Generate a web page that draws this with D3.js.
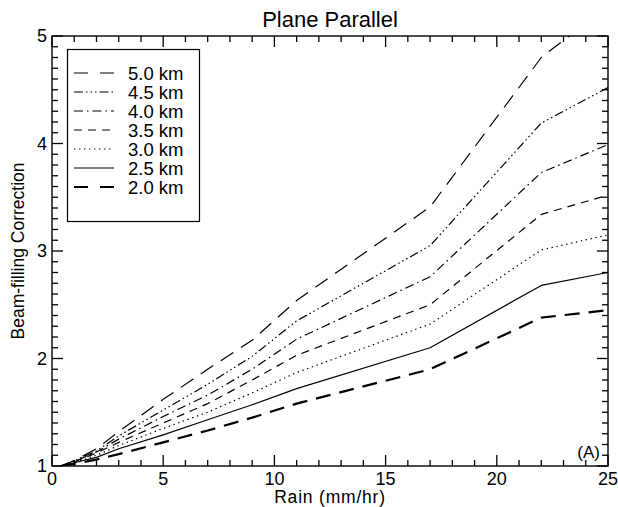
<!DOCTYPE html>
<html>
<head>
<meta charset="utf-8">
<script src="https://cdn.jsdelivr.net/npm/d3@7"></script>
<style>
  html, body { margin: 0; padding: 0; background: #fff; }
  svg { display: block; font-family: "Liberation Sans", Arial, Helvetica, sans-serif; }
</style>
</head>
<body>
<svg id="chart" width="618" height="507"></svg>
<script>
// Rain rate (mm/hr) at which each correction was computed
const rainRates = [0.4, 1, 2, 3, 5, 7, 9, 11, 17, 22, 25];

// Beam-filling correction for each freezing-level height
const km50 = [1.00, 1.05, 1.16, 1.32, 1.62, 1.90, 2.17, 2.54, 3.41, 4.80, 5.28];
const km45 = [1.00, 1.05, 1.14, 1.28, 1.52, 1.76, 2.02, 2.35, 3.05, 4.19, 4.52];
const km40 = [1.00, 1.04, 1.13, 1.25, 1.46, 1.66, 1.90, 2.18, 2.76, 3.73, 3.99];
const km35 = [1.00, 1.04, 1.12, 1.22, 1.40, 1.58, 1.80, 2.03, 2.50, 3.34, 3.52];
const km30 = [1.00, 1.03, 1.10, 1.19, 1.35, 1.50, 1.68, 1.87, 2.32, 3.01, 3.15];
const km25 = [1.00, 1.03, 1.08, 1.16, 1.29, 1.43, 1.57, 1.72, 2.10, 2.68, 2.80];
const km20 = [1.00, 1.02, 1.06, 1.11, 1.22, 1.33, 1.45, 1.58, 1.90, 2.38, 2.45];

const seriesLabels = ["5.0 km", "4.5 km", "4.0 km", "3.5 km", "3.0 km", "2.5 km", "2.0 km"];
const seriesValues = [km50, km45, km40, km35, km30, km25, km20];

const xTicks = [0, 5, 10, 15, 20, 25];
const yTicks = [1, 2, 3, 4, 5];

// Line styles: long dash, dash-dot-dot-dot, dash-dot, dash, dot, solid, heavy long dash
const styles = [
  { dash: "15,9", width: 1.2 },
  { dash: "9,3,1.5,3,1.5,3,1.5,3", width: 1.2 },
  { dash: "9,4,1.5,4", width: 1.2 },
  { dash: "8,6", width: 1.2 },
  { dash: "1.4,3.6", width: 1.2 },
  { dash: null, width: 1.2 },
  { dash: "15,9", width: 2.2 }
];

const svg = d3.select("#chart");
const plot = { left: 52, right: 608, top: 36, bottom: 466 };

const x = d3.scaleLinear().domain([0, 25]).range([plot.left, plot.right]);
const y = d3.scaleLinear().domain([1, 5]).range([plot.bottom, plot.top]);

svg.append("defs").append("clipPath").attr("id", "plotClip")
  .append("rect")
  .attr("x", plot.left).attr("y", plot.top)
  .attr("width", plot.right - plot.left).attr("height", plot.bottom - plot.top);

// Title
svg.append("text")
  .attr("x", (plot.left + plot.right) / 2).attr("y", 27)
  .attr("text-anchor", "middle")
  .attr("font-size", 22)
  .text("Plane Parallel");

// Frame
svg.append("rect")
  .attr("x", plot.left).attr("y", plot.top)
  .attr("width", plot.right - plot.left).attr("height", plot.bottom - plot.top)
  .attr("fill", "none").attr("stroke", "#000").attr("stroke-width", 1.4);

// Inward ticks on all four sides: majors every 5 (x) / 1 (y), minors every 1 / 0.1
const minorX = d3.range(1, 25, 1).filter(v => v % 5 !== 0);
const minorY = d3.range(11, 50, 1).filter(v => v % 10 !== 0).map(v => v / 10);

const tickSegs = [];
minorX.forEach(v => tickSegs.push([x(v), plot.bottom, x(v), plot.bottom - 6], [x(v), plot.top, x(v), plot.top + 6]));
xTicks.forEach(v => tickSegs.push([x(v), plot.bottom, x(v), plot.bottom - 11], [x(v), plot.top, x(v), plot.top + 11]));
minorY.forEach(v => tickSegs.push([plot.left, y(v), plot.left + 6, y(v)], [plot.right, y(v), plot.right - 6, y(v)]));
yTicks.forEach(v => tickSegs.push([plot.left, y(v), plot.left + 11, y(v)], [plot.right, y(v), plot.right - 11, y(v)]));

svg.append("g").selectAll("line").data(tickSegs).join("line")
  .attr("x1", d => d[0]).attr("y1", d => d[1])
  .attr("x2", d => d[2]).attr("y2", d => d[3])
  .style("stroke", "#000")
  .style("stroke-width", "1.3px");

// Tick labels
svg.append("g").selectAll("text").data(xTicks).join("text")
  .attr("x", d => x(d)).attr("y", 485)
  .attr("text-anchor", "middle").attr("font-size", 18)
  .text(d => d);
svg.append("g").selectAll("text").data(yTicks).join("text")
  .attr("x", 47).attr("y", d => y(d)).attr("dy", "0.36em")
  .attr("text-anchor", "end").attr("font-size", 18)
  .text(d => d);

// Axis titles
svg.append("text")
  .attr("x", (plot.left + plot.right) / 2).attr("y", 503)
  .attr("text-anchor", "middle").attr("font-size", 17.5)
  .attr("letter-spacing", 0.8)
  .text("Rain (mm/hr)");
svg.append("text")
  .attr("transform", `translate(24,${(plot.top + plot.bottom) / 2}) rotate(-90)`)
  .attr("text-anchor", "middle").attr("font-size", 17.5)
  .text("Beam-filling Correction");

// Curves
const line = d3.line().x((d, i) => x(rainRates[i])).y(d => y(d));
const curves = svg.append("g").attr("clip-path", "url(#plotClip)");
seriesValues.forEach((vals, k) => {
  curves.append("path")
    .datum(vals)
    .attr("d", line)
    .attr("fill", "none")
    .attr("stroke", "#000")
    .attr("stroke-width", styles[k].width)
    .attr("stroke-dasharray", styles[k].dash)
    .attr("stroke-linejoin", "round");
});

// Legend
const legend = svg.append("g");
legend.append("rect")
  .attr("x", 67.5).attr("y", 49.5).attr("width", 132).attr("height", 172)
  .attr("fill", "#fff").attr("stroke", "#000").attr("stroke-width", 1.2);
seriesLabels.forEach((lab, k) => {
  const ry = 73 + k * 19;
  legend.append("line")
    .attr("x1", 74).attr("x2", 114).attr("y1", ry).attr("y2", ry)
    .attr("stroke", "#000")
    .attr("stroke-width", styles[k].width)
    .attr("stroke-dasharray", k === 0 || k === 6 ? "14,12" : styles[k].dash);
  legend.append("text")
    .attr("x", 128).attr("y", ry).attr("dy", "0.36em")
    .attr("font-size", 18.5)
    .text(lab);
});

// Panel tag
svg.append("text")
  .attr("x", 600).attr("y", 452).attr("dy", "0.36em")
  .attr("text-anchor", "end").attr("font-size", 17)
  .text("(A)");
</script>
</body>
</html>
